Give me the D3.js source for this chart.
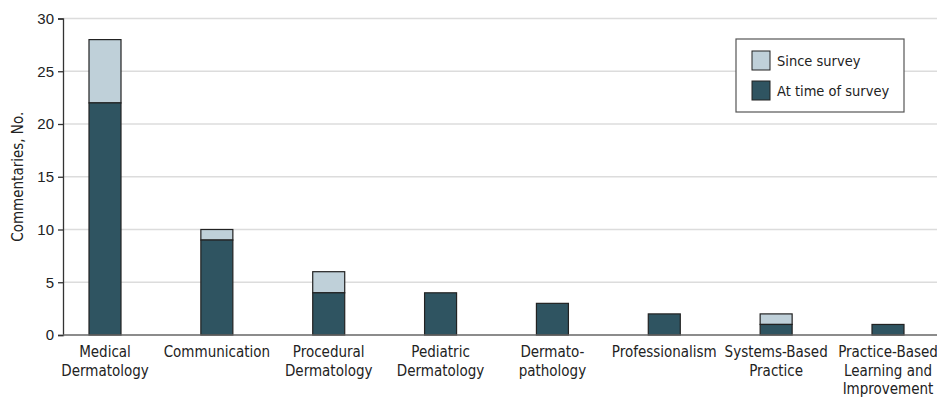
<!DOCTYPE html>
<html>
<head>
  <script src="https://d3js.org/d3.v7.min.js"></script>
  <style>
    body { margin: 0; background: #fff; }
    svg { font-family: "DejaVu Sans Condensed", "Liberation Sans Narrow", sans-serif; }
    .tick text { font-size: 15px; fill: #222; }
  </style>
</head>
<body>
  <svg width="937" height="400"></svg>
  <script>
    const categories = [
      ["Medical", "Dermatology"],
      ["Communication"],
      ["Procedural", "Dermatology"],
      ["Pediatric", "Dermatology"],
      ["Dermato-", "pathology"],
      ["Professionalism"],
      ["Systems-Based", "Practice"],
      ["Practice-Based", "Learning and", "Improvement"]
    ];
    const atTime = [22, 9, 4, 4, 3, 2, 1, 1];
    const since = [6, 1, 2, 0, 0, 0, 1, 0];
    const yTicks = [0, 5, 10, 15, 20, 25, 30];

    const dark = "#2f5461", light = "#bfd0d9";
    const svg = d3.select("svg");
    const plotLeft = 63, plotRight = 937, plotTop = 18.5, plotBottom = 335;

    const names = categories.map(c => c.join(" "));
    const x = d3.scalePoint().domain(names).range([105, 888]);
    const y = d3.scaleLinear().domain([0, 30]).range([plotBottom, plotTop]);
    const barW = 32;

    // grid
    svg.append("g").selectAll("line").data(yTicks.filter(d => d > 0)).join("line")
      .attr("x1", plotLeft).attr("x2", plotRight)
      .attr("y1", d => y(d)).attr("y2", d => y(d))
      .attr("stroke", "#dcdcdc").attr("stroke-width", 1.5);

    // y axis
    const yAxis = svg.append("g").attr("transform", `translate(${plotLeft},0)`)
      .call(d3.axisLeft(y).tickValues(yTicks).tickSize(5).tickPadding(4));
    yAxis.select(".domain").attr("stroke", "#333").attr("stroke-width", 1.3);
    yAxis.selectAll(".tick line").attr("stroke", "#333").attr("stroke-width", 1.3);

    svg.append("text")
      .attr("transform", `translate(23,${(plotTop + plotBottom) / 2}) rotate(-90)`)
      .attr("text-anchor", "middle")
      .attr("font-size", 15).attr("fill", "#222")
      .text("Commentaries, No.");

    // bars
    const data = names.map((n, i) => ({ n, a: atTime[i], s: since[i] }));
    const g = svg.append("g");
    g.selectAll(".since").data(data.filter(d => d.s > 0)).join("rect")
      .attr("x", d => x(d.n) - barW / 2).attr("width", barW)
      .attr("y", d => y(d.a + d.s)).attr("height", d => y(d.a) - y(d.a + d.s))
      .attr("fill", light).attr("stroke", "#222").attr("stroke-width", 1.2);
    g.selectAll(".at").data(data).join("rect")
      .attr("x", d => x(d.n) - barW / 2).attr("width", barW)
      .attr("y", d => y(d.a)).attr("height", d => y(0) - y(d.a))
      .attr("fill", dark).attr("stroke", "#222").attr("stroke-width", 1.2);

    // baseline
    svg.append("line").attr("x1", plotLeft).attr("x2", plotRight)
      .attr("y1", plotBottom).attr("y2", plotBottom)
      .attr("stroke", "#666").attr("stroke-width", 1.5);

    // x labels
    const xl = svg.append("g").selectAll("text").data(categories).join("text")
      .attr("text-anchor", "middle").attr("font-size", 15).attr("fill", "#222")
      .attr("x", (d, i) => x(names[i]));
    xl.selectAll("tspan").data(d => d).join("tspan")
      .attr("x", function () { return this.parentNode.getAttribute("x"); })
      .attr("y", (d, i) => 357 + i * 18.5)
      .text(d => d);

    // legend
    const lg = svg.append("g");
    lg.append("rect").attr("x", 736).attr("y", 39).attr("width", 168).attr("height", 73)
      .attr("fill", "#fff").attr("stroke", "#555").attr("stroke-width", 1.2);
    const items = [["Since survey", light], ["At time of survey", dark]];
    items.forEach(([label, c], i) => {
      lg.append("rect").attr("x", 752).attr("y", 51 + i * 30).attr("width", 18).attr("height", 19)
        .attr("fill", c).attr("stroke", "#222").attr("stroke-width", 1);
      lg.append("text").attr("x", 777).attr("y", 66 + i * 30)
        .attr("font-size", 14.5).attr("fill", "#222").text(label);
    });
  </script>
</body>
</html>
